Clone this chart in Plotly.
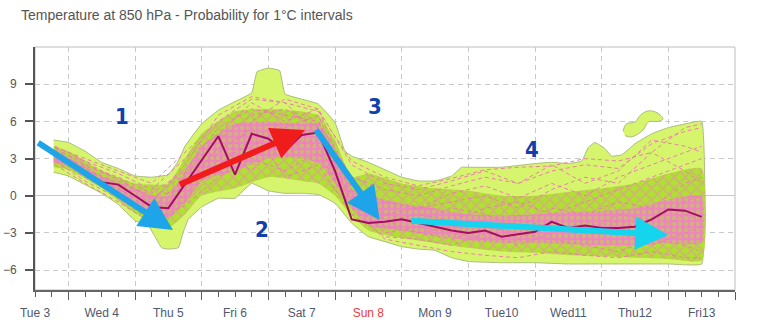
import plotly.graph_objects as go

# ---------------- data (days after Tue 3 00h, temperature in °C) ----------------
DAY_LABELS = ["Tue 3", "Wed 4", "Thu 5", "Fri 6", "Sat 7", "Sun 8",
              "Mon 9", "Tue10", "Wed11", "Thu12", "Fri13"]
DAY_POS = [0, 1, 2, 3, 4, 5, 6, 7, 8, 9, 10]
Y_TICKS = [-6, -3, 0, 3, 6, 9]

# outer probability envelope (light green)
ENV_UP_X = [0.28, 0.5, 0.75, 1.0, 1.25, 1.5, 1.75, 2.0, 2.15, 2.25, 2.5, 2.75, 3.0, 3.25,
            3.33, 3.5, 3.67, 3.75, 4.0, 4.25, 4.5, 4.65, 4.75, 5.0, 5.25, 5.5, 5.75, 6.0,
            6.25, 6.4, 6.5, 7.0, 7.5, 7.75, 8.0, 8.2, 8.3, 8.4, 8.55, 8.65, 8.8, 9.0,
            9.25, 9.5, 9.75, 10.0]
ENV_UP_Y = [4.5, 4.3, 3.6, 2.7, 2.2, 1.6, 1.5, 1.7, 2.8, 4.0, 5.8, 6.9, 7.6, 8.3,
            10.0, 10.3, 10.1, 8.2, 7.8, 7.4, 5.9, 3.6, 3.2, 2.7, 2.1, 1.5, 1.2, 1.2,
            1.6, 2.3, 2.3, 2.3, 2.6, 2.7, 2.6, 2.8, 3.9, 4.3, 3.8, 3.2, 3.3, 4.2,
            5.0, 5.5, 5.8, 6.0]
ENV_LO_X = [0.28, 0.5, 0.75, 1.0, 1.25, 1.5, 1.7, 1.8, 1.9, 2.0, 2.15, 2.22, 2.3, 2.5,
            2.75, 3.0, 3.25, 3.5, 3.75, 4.0, 4.25, 4.5, 4.75, 5.0, 5.25, 5.5, 5.75, 6.0,
            6.25, 6.5, 7.0, 7.5, 8.0, 8.5, 9.0, 9.5, 10.0]
ENV_LO_Y = [1.9, 1.6, 0.9, 0.2, -0.7, -2.0, -2.4, -3.3, -4.2, -4.3, -4.2, -3.0, -1.9, -0.9,
            -0.2, -0.2, 1.0, 0.4, 0.2, 0.2, 0.1, -0.6, -2.2, -3.3, -3.7, -4.1, -4.3, -4.4,
            -5.0, -5.3, -5.4, -5.4, -5.5, -5.5, -5.5, -5.5, -5.5]
ISLAND_X = [8.82, 8.87, 9.0, 9.08, 9.2, 9.33, 9.42, 9.35, 9.2, 9.12, 8.95, 8.85]
ISLAND_Y = [5.2, 5.8, 5.95, 6.5, 6.85, 6.7, 6.2, 6.0, 5.95, 5.3, 4.75, 4.85]

# inner bands
BAND_X = [0.28, 0.5, 1.0, 1.5, 1.75, 2.0, 2.25, 2.5, 3.0, 3.5, 4.0, 4.25, 4.5, 4.75, 5.0,
          5.5, 6.0, 6.5, 7.0, 7.5, 8.0, 8.5, 9.0, 9.5, 10.0]
MID_UP = [4.0, 3.6, 2.0, 1.0, 0.9, 1.0, 3.0, 5.0, 6.8, 7.0, 6.8, 6.5, 4.5, 1.5, 1.8,
          1.0, 0.6, 0.4, 0.0, 0.0, 0.3, 0.6, 1.0, 1.8, 2.2]
MID_LO = [2.3, 2.1, 0.6, -1.4, -2.0, -2.6, -1.5, 0.0, 0.6, 1.5, 1.2, 1.0, 0.0, -1.6, -2.8,
          -3.4, -3.8, -4.2, -4.5, -4.6, -4.8, -4.9, -5.0, -5.1, -5.2]
CORE_UP = [3.6, 3.1, 1.6, 0.6, 0.0, 0.0, 2.0, 4.0, 5.8, 6.0, 5.8, 5.8, 3.5, 0.5, 0.0,
           -0.6, -1.0, -1.5, -1.6, -1.5, -1.3, -1.2, -1.0, -0.3, 0.0]
CORE_LO = [2.6, 2.4, 1.0, -0.6, -1.5, -1.8, -0.6, 1.2, 2.0, 3.0, 3.0, 2.6, 1.0, -1.0, -2.4,
           -2.8, -3.2, -3.6, -3.8, -3.8, -3.9, -4.0, -4.0, -3.8, -3.8]

# ensemble members (dashed)
MEM_X = [0.3, 0.75, 1.25, 1.75, 2.25, 2.75, 3.25, 3.75, 4.25, 4.75, 5.25, 5.75, 6.25,
         6.75, 7.25, 7.75, 8.25, 8.75, 9.25, 9.75, 10.0]
MEM_1 = [3.8, 2.5, 1.5, 0.2, 2.0, 5.5, 7.0, 6.5, 6.0, 1.5, 0.5, 0.0, 0.8, 1.5, 1.0, 2.0, 2.5, 2.2, 4.2, 5.2, 5.5]
MEM_2 = [3.0, 1.5, 0.2, -1.5, -0.5, 3.0, 4.0, 5.5, 6.5, 0.0, -2.5, -3.0, -3.5, -2.5, -3.0, -3.5, -4.0, -4.5, -3.5, -4.0, -4.5]
MEM_3 = [3.5, 2.2, 1.0, -1.0, 1.5, 2.0, 6.0, 7.8, 7.0, 0.5, -1.5, -1.0, -0.5, 0.0, -1.0, 0.5, 1.5, 1.0, 3.5, 2.0, 1.0]
MEM_4 = [2.8, 1.2, -0.2, -2.0, -0.8, 1.5, 3.0, 2.0, 3.5, -1.0, -3.5, -4.0, -4.5, -4.8, -5.0, -4.5, -4.8, -5.0, -4.5, -5.0, -5.0]
MEM_5 = [3.2, 2.0, 0.5, -0.5, 2.5, 6.5, 8.0, 7.5, 5.0, -0.3, -2.0, -1.5, -2.0, -1.0, -0.5, -1.5, -0.5, 0.5, 1.5, 2.5, 3.0]
MEM_6 = [3.6, 2.8, 1.2, 0.0, 0.5, 4.0, 2.0, 4.5, 4.0, -0.5, -3.0, -2.5, -3.0, -3.5, -2.0, -2.5, -3.0, -1.5, -2.0, -0.5, 0.0]
MEM_7 = [2.5, 1.0, -0.5, -2.2, 1.0, 3.5, 5.5, 1.5, 2.5, -1.5, -3.3, -3.5, -4.0, -3.0, -4.0, -3.0, -2.0, -3.0, -4.0, -3.0, -2.5]
MEM_8 = [4.0, 2.8, 1.8, 0.5, 3.0, 5.0, 7.5, 6.0, 7.0, 2.5, 1.0, 0.5, 1.2, 2.0, 1.0, 2.5, 1.0, 2.0, 4.5, 4.0, 3.5]
MEM_9 = [3.0, 1.8, 0.6, -1.2, 0.0, 2.5, 4.5, 3.0, 6.0, -0.8, -1.5, -2.0, -1.0, -1.5, -2.5, -1.0, -1.5, -0.5, -1.0, 1.0, 1.5]
MEM_10 = [3.4, 2.4, 1.4, -0.3, 1.8, 4.5, 6.5, 7.0, 5.5, 0.5, -2.0, -3.0, -2.5, -2.0, -3.5, -2.0, -3.5, -2.0, -3.0, -1.5, -2.0]
MEM_11 = [3.9, 3.0, 2.0, 1.0, 3.5, 6.0, 7.8, 7.5, 6.8, 2.8, 1.5, 0.8, 1.4, 2.1, 2.3, 2.4, 3.0, 2.8, 3.5, 5.5, 5.8]
MEM_12 = [3.1, 2.1, 0.8, -0.8, 1.2, 3.8, 5.2, 4.0, 4.5, 0.8, -0.5, -1.0, 0.2, 0.8, -0.2, 1.0, 0.0, 1.5, 2.5, 3.5, 4.0]
MEMBERS = [MEM_1, MEM_2, MEM_3, MEM_4, MEM_5, MEM_6, MEM_7, MEM_8, MEM_9, MEM_10, MEM_11, MEM_12]

# main (control) run
MAIN_X = [0.3, 0.5, 0.75, 1.0, 1.25, 1.5, 1.75, 2.0, 2.25, 2.5, 2.75, 3.0, 3.25, 3.5, 3.75,
          4.0, 4.25, 4.5, 4.75, 5.0, 5.25, 5.5, 5.75, 6.0, 6.25, 6.5, 6.75, 7.0, 7.25, 7.5,
          7.75, 8.0, 8.25, 8.5, 8.75, 9.0, 9.25, 9.5, 9.75, 10.0]
MAIN_Y = [3.3, 2.7, 1.9, 1.1, 0.9, 0.0, -0.9, -1.0, 0.9, 2.8, 4.8, 1.7, 5.0, 4.6, 3.6,
          4.9, 5.1, 2.0, -1.9, -2.2, -2.1, -1.9, -2.2, -2.5, -2.8, -3.0, -2.8, -3.3, -3.1, -2.9,
          -2.1, -2.6, -2.4, -2.6, -2.6, -2.5, -1.9, -1.1, -1.2, -1.7]

# hand-drawn trend arrows: (tail x, tail y, head x, head y, colour)
ARROWS = [(0.025, 4.35, 2.07, -2.77, "#1ea5e9"),
          (2.15, 0.86, 4.05, 5.3, "#f01c1c"),
          (4.2, 5.43, 5.17, -1.96, "#1ea5e9"),
          (5.62, -2.0, 9.5, -3.17, "#14d4ee")]
NUMBERS = [("1", 1.30, 6.37), ("2", 3.40, -2.7), ("3", 5.10, 7.18), ("4", 7.46, 3.77)]

# ---------------- figure ----------------
LIGHT_GREEN = "#d6f56c"
MID_GREEN = "#aee22e"
PINK = "#ef85bf"

fig = go.Figure()

fig.add_trace(go.Scatter(
    x=ENV_UP_X + ENV_LO_X[::-1], y=ENV_UP_Y + ENV_LO_Y[::-1],
    fill="toself", fillcolor=LIGHT_GREEN, mode="lines",
    line=dict(color="#a9bd7c", width=1, shape="spline", smoothing=0.3),
    hoverinfo="skip", showlegend=False))
fig.add_trace(go.Scatter(
    x=ISLAND_X, y=ISLAND_Y, fill="toself", fillcolor=LIGHT_GREEN, mode="lines",
    line=dict(color="#a9bd7c", width=1, shape="spline", smoothing=1.0),
    hoverinfo="skip", showlegend=False))
fig.add_trace(go.Scatter(
    x=BAND_X + BAND_X[::-1], y=MID_UP + MID_LO[::-1],
    fill="toself", fillcolor=MID_GREEN, mode="lines",
    fillpattern=dict(shape="x", bgcolor=MID_GREEN, fgcolor=PINK, size=8, solidity=0.4),
    line=dict(color="rgba(0,0,0,0)", width=0, shape="spline", smoothing=0.5),
    hoverinfo="skip", showlegend=False))
fig.add_trace(go.Scatter(
    x=BAND_X + BAND_X[::-1], y=CORE_UP + CORE_LO[::-1],
    fill="toself", fillcolor=PINK, mode="lines",
    fillpattern=dict(shape=".", bgcolor=PINK, fgcolor=MID_GREEN, size=6, solidity=0.4),
    line=dict(color="rgba(0,0,0,0)", width=0, shape="spline", smoothing=0.5),
    hoverinfo="skip", showlegend=False))

for m in MEMBERS:
    fig.add_trace(go.Scatter(
        x=MEM_X, y=m, mode="lines",
        line=dict(color="#ea7fae", width=1, dash="4px,3px"),
        hoverinfo="skip", showlegend=False))

fig.add_trace(go.Scatter(
    x=MAIN_X, y=MAIN_Y, mode="lines",
    line=dict(color="#a1105c", width=2),
    hoverinfo="skip", showlegend=False))

# dummy trace so the label axis is drawn
fig.add_trace(go.Scatter(x=[0], y=[0], xaxis="x2", mode="markers",
                         marker=dict(opacity=0), hoverinfo="skip", showlegend=False))

annotations = []
for (x0, y0, x1, y1, col) in ARROWS:
    annotations.append(dict(
        x=x1, y=y1, ax=x0, ay=y0, xref="x", yref="y", axref="x", ayref="y",
        text="", showarrow=True, arrowhead=2, arrowsize=1.1, arrowwidth=6,
        arrowcolor=col, standoff=0))
for (t, x, y) in NUMBERS:
    annotations.append(dict(
        x=x, y=y, xref="x", yref="y", text="<b>%s</b>" % t, showarrow=False,
        font=dict(family="Liberation Sans Narrow, DejaVu Sans Condensed, Arial", size=22,
                  color="#0f40ab")))

ticktext = [("<span style='color:#ee3b3b'>%s</span>" % d) if d == "Sun 8" else d
            for d in DAY_LABELS]

fig.update_layout(
    width=759, height=336,
    margin=dict(l=35, r=24, t=47, b=46, autoexpand=False),
    paper_bgcolor="white", plot_bgcolor="white",
    title=dict(text="Temperature at 850 hPa - Probability for 1°C intervals",
               x=21 / 759, xanchor="left", xref="container",
               y=1 - 15 / 336, yanchor="middle", yref="container", automargin=False,
               font=dict(family="Liberation Sans, Arial", size=14, color="#555555")),
    xaxis=dict(range=[0, 10.5], tickmode="array", automargin=False,
               tickvals=[d + 0.5 for d in DAY_POS],
               showticklabels=False, ticks="outside", ticklen=8, tickwidth=1.2,
               tickcolor="#5a5a5a",
               showgrid=True, gridcolor="#c9c9c9", gridwidth=1, griddash="5px,4px",
               showline=True, linecolor="#666666", linewidth=2, zeroline=False,
               minor=dict(tickmode="linear", tick0=0, dtick=0.25, ticks="outside",
                          ticklen=5, tickwidth=1, tickcolor="#5a5a5a", showgrid=False)),
    xaxis2=dict(range=[0, 10.5], overlaying="x", side="bottom", anchor="y",
                automargin=False,
                tickmode="array", tickvals=DAY_POS, ticktext=ticktext,
                ticks="", showgrid=False, showline=False, zeroline=False,
                ticklabelstandoff=14,
                tickfont=dict(family="Liberation Sans, Arial", size=12, color="#4f5870")),
    yaxis=dict(range=[-7.6, 12], tickmode="array", tickvals=Y_TICKS, automargin=False,
               ticks="outside", ticklen=8, tickwidth=1.5, tickcolor="#555555",
               showgrid=True, gridcolor="#c9c9c9", gridwidth=1, griddash="5px,4px",
               zeroline=True, zerolinecolor="#c9c9c9", zerolinewidth=1,
               showline=True, linecolor="#555555", linewidth=2,
               ticklabelstandoff=6,
               tickfont=dict(family="Liberation Sans, Arial", size=12, color="#555555")),
    shapes=[dict(type="rect", xref="paper", yref="paper", x0=0, y0=0, x1=1, y1=1,
                 line=dict(color="#bdbdbd", width=1), layer="below")],
    annotations=annotations,
    showlegend=False,
)

fig.write_html("out.html")
